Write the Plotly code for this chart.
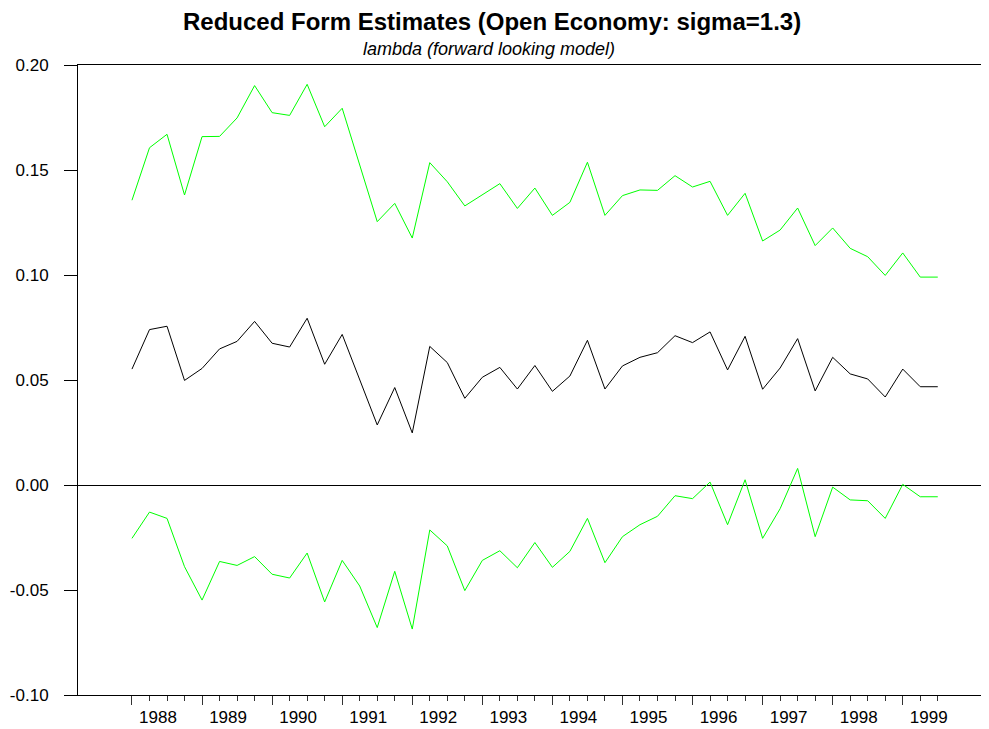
import plotly.graph_objects as go

# Quarterly observations, 1988:1 .. 1999:3
start_year = 1988
n_obs = 47
quarters = [f"{start_year + i // 4}:{i % 4 + 1}" for i in range(n_obs)]
x_vals = [int(q.split(":")[0]) + (int(q.split(":")[1]) - 1) / 4 for q in quarters]

upper_band = [0.1356, 0.1606, 0.1670, 0.1381, 0.1659, 0.1660, 0.1748, 0.1902, 0.1773, 0.1760,
              0.1908, 0.1706, 0.1794, 0.1519, 0.1254, 0.1341, 0.1176, 0.1535, 0.1444, 0.1329,
              0.1384, 0.1435, 0.1317, 0.1414, 0.1284, 0.1346, 0.1537, 0.1284, 0.1378, 0.1405,
              0.1403, 0.1473, 0.1419, 0.1446, 0.1284, 0.1389, 0.1162, 0.1214, 0.1319, 0.1140,
              0.1224, 0.1127, 0.1087, 0.0998, 0.1105, 0.0990, 0.0990]

lambda_est = [0.0552, 0.0740, 0.0756, 0.0498, 0.0555, 0.0648, 0.0684, 0.0779, 0.0675, 0.0657,
              0.0794, 0.0575, 0.0717, 0.0502, 0.0286, 0.0464, 0.0248, 0.0660, 0.0583, 0.0413,
              0.0513, 0.0560, 0.0457, 0.0569, 0.0446, 0.0519, 0.0689, 0.0457, 0.0567, 0.0608,
              0.0630, 0.0711, 0.0678, 0.0729, 0.0548, 0.0708, 0.0456, 0.0557, 0.0697, 0.0448,
              0.0608, 0.0529, 0.0505, 0.0419, 0.0552, 0.0468, 0.0468]

lower_band = [-0.0254, -0.0129, -0.0159, -0.0389, -0.0548, -0.0364, -0.0383, -0.0341, -0.0425, -0.0443,
              -0.0324, -0.0557, -0.0359, -0.0481, -0.0679, -0.0411, -0.0686, -0.0214, -0.0290, -0.0503,
              -0.0359, -0.0313, -0.0394, -0.0274, -0.0392, -0.0316, -0.0159, -0.0370, -0.0246, -0.0189,
              -0.0149, -0.0051, -0.0065, 0.0014, -0.0189, 0.0025, -0.0254, -0.0113, 0.0079, -0.0246,
              -0.0010, -0.0071, -0.0075, -0.0159, 0.0003, -0.0056, -0.0056]

year_ticks = list(range(1988, 2000))
year_labels = [str(y) for y in year_ticks]
y_ticks = [-0.10, -0.05, 0.00, 0.05, 0.10, 0.15, 0.20]
y_labels = ["-0.10", "-0.05", "0.00", "0.05", "0.10", "0.15", "0.20"]

title_text = "Reduced Form Estimates (Open Economy: sigma=1.3)"
subtitle_text = "lambda (forward looking model)"

FONT = "Liberation Sans, Arial, Helvetica, sans-serif"
GREEN = "#00ff00"

fig = go.Figure()
fig.add_trace(go.Scatter(x=x_vals, y=upper_band, mode="lines",
                         line=dict(color=GREEN, width=1), showlegend=False))
fig.add_trace(go.Scatter(x=x_vals, y=lower_band, mode="lines",
                         line=dict(color=GREEN, width=1), showlegend=False))
fig.add_trace(go.Scatter(x=x_vals, y=lambda_est, mode="lines",
                         line=dict(color="#000000", width=1), showlegend=False))

minor_ticks = [v for v in x_vals if abs(v - round(v)) > 1e-9]

# page body has an 8px margin: shrink the figure so the plot sits where the reference's does
fig.update_layout(
    width=981, height=721,
    margin=dict(l=70, r=0, t=57, b=34),
    paper_bgcolor="white", plot_bgcolor="white",
    font=dict(family=FONT, color="#000000"),
    xaxis=dict(
        range=[1987.2296, 2000.231],
        tickmode="array", tickvals=year_ticks, ticktext=year_labels,
        ticks="outside", ticklen=9, tickwidth=1, tickcolor="#333333",
        ticklabelshift=26, ticklabelstandoff=-2,
        minor=dict(tickmode="array", tickvals=minor_ticks, ticks="outside",
                   ticklen=5, tickwidth=1, tickcolor="#333333", showgrid=False),
        showline=True, linecolor="#000000", linewidth=1, mirror=True,
        showgrid=False, zeroline=False,
        tickfont=dict(size=17, family=FONT, color="#000000"),
    ),
    yaxis=dict(
        range=[-0.10, 0.20],
        tickmode="array", tickvals=y_ticks, ticktext=y_labels,
        ticks="outside", ticklen=13, tickwidth=1, tickcolor="#000000",
        ticklabelstandoff=12,
        showline=True, linecolor="#000000", linewidth=1,
        showgrid=False,
        zeroline=True, zerolinecolor="#000000", zerolinewidth=1,
        tickfont=dict(size=17, family=FONT, color="#000000"),
    ),
    annotations=[
        dict(text=f"<b>{title_text}</b>", xref="paper", yref="paper",
             x=(492 - 78) / 911, y=1 + (65 - 21) / 630, xanchor="center", yanchor="middle",
             showarrow=False, font=dict(size=24, family=FONT, color="#000000")),
        dict(text=f"<i>{subtitle_text}</i>", xref="paper", yref="paper",
             x=(488.5 - 78) / 911, y=1 + (65 - 49) / 630, xanchor="center", yanchor="middle",
             showarrow=False, font=dict(size=18, family=FONT, color="#000000")),
    ],
)

fig.write_html("out.html")
